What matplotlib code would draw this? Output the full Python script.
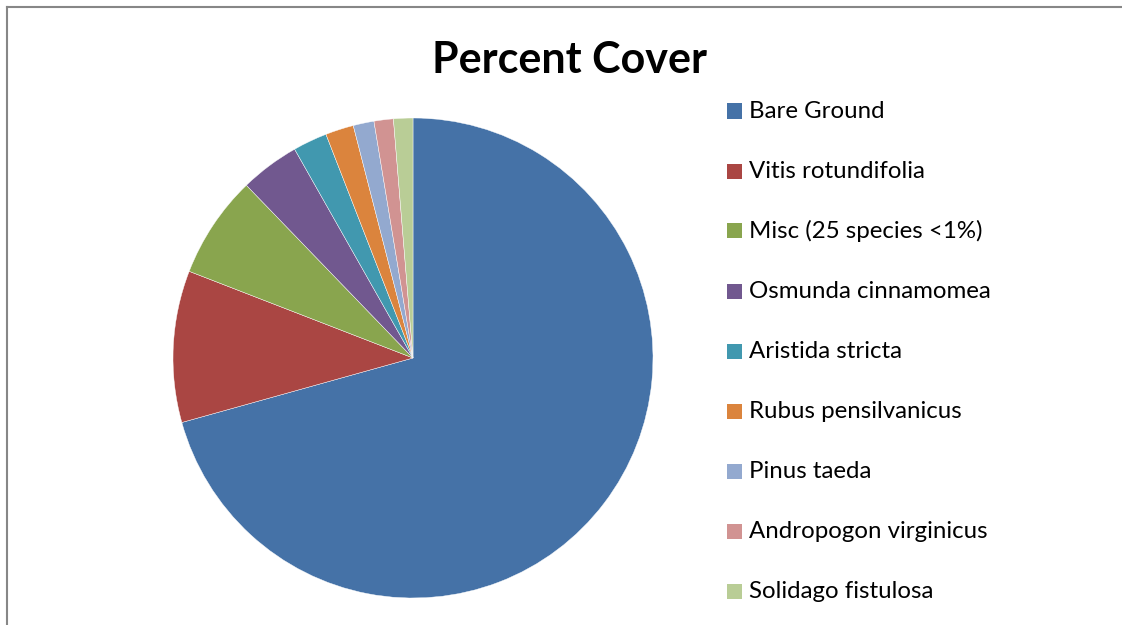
import matplotlib
matplotlib.use("Agg")
import matplotlib.pyplot as plt
from matplotlib.lines import Line2D
from matplotlib.patches import Rectangle

labels = ["Bare Ground", "Vitis rotundifolia", "Misc (25 species <1%)",
          "Osmunda cinnamomea", "Aristida stricta", "Rubus pensilvanicus",
          "Pinus taeda", "Andropogon virginicus", "Solidago fistulosa"]
values = [70.6, 10.2, 6.9, 4.0, 2.3, 1.9, 1.4, 1.3, 1.3]
colors = ["#4572A7", "#AA4643", "#89A54E", "#71588F", "#4198AF",
          "#DB843D", "#93A9CF", "#D19392", "#B9CD96"]

W, H = 1122, 625
fig = plt.figure(figsize=(W / 100, H / 100), dpi=100)
fig.patch.set_facecolor("white")

cx, cy, r = 413, 358, 240
ax = fig.add_axes([(cx - r) / W, (H - cy - r) / H, 2 * r / W, 2 * r / H])
ax.pie(values, colors=colors, startangle=90, counterclock=False,
       wedgeprops=dict(linewidth=0.3, edgecolor="white"))
ax.set_xlim(-1, 1)
ax.set_ylim(-1, 1)
ax.set_aspect("equal")
ax.axis("off")

fig.text(570 / W, 1 - 60 / H, "Percent Cover", ha="center", va="center",
         fontsize=31, fontweight="bold", family="Lato")

row0, step = 111, 60
for i, (lab, col) in enumerate(zip(labels, colors)):
    y = row0 + i * step
    fig.add_artist(Rectangle((727 / W, 1 - (y + 7.5) / H), 15 / W, 15 / H,
                             transform=fig.transFigure, facecolor=col,
                             edgecolor="none"))
    fig.text(749 / W, 1 - y / H, lab, ha="left", va="center",
             fontsize=17.3, family="Lato")

# chart border (partially visible)
bc = "#878787"
fig.add_artist(Line2D([6.5 / W, 6.5 / W], [0, 1 - 6.5 / H], color=bc, lw=1.5,
                      transform=fig.transFigure))
fig.add_artist(Line2D([6.5 / W, 1.01], [1 - 6.5 / H, 1 - 6.5 / H], color=bc, lw=1.5,
                      transform=fig.transFigure))

fig.savefig("out.png", dpi=100, facecolor="white")
